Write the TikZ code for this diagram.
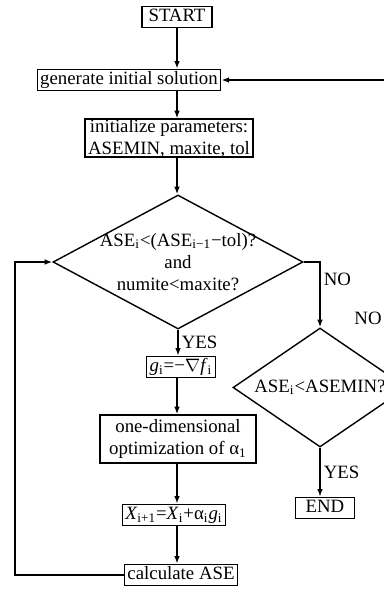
\documentclass[tikz,border=0pt]{standalone}
\usepackage{fontspec}
\setmainfont{Liberation Serif}
\usetikzlibrary{arrows.meta, calc, positioning, shapes.geometric}

\begin{document}
\begin{tikzpicture}[x=0.5pt, y=-0.5pt,
	every node/.style={font=\fontsize{9.4}{11}\selectfont},
	box/.style={draw, line width=0.7pt, inner xsep=1.5pt, inner ysep=0.8pt, align=center},
	onel/.style={box, text height=6.8pt, text depth=2.2pt},
	decision/.style={draw, line width=0.7pt, diamond, aspect=2, inner sep=-6pt, align=center},
	arr/.style={line width=0.9pt, -{Latex[length=3.8pt,width=2.8pt]}},
	lbl/.style={inner sep=1.5pt}]
		\useasboundingbox (0,0) rectangle (384,589);
		\clip (0,0) rectangle (384,589);
		\coordinate (axis) at (177,0);
		\coordinate (lft) at (15,0);
		\coordinate (rgt) at (420,0);
		\node[onel, minimum width=35pt] (start) at (177,17) {START};
		\node[onel] (gen) at (129,80) {generate initial solution};
		\node[box, inner ysep=0pt] (init) at (169,138) {initialize parameters:\\ASEMIN, maxite, tol};
		\node[decision, minimum width=125pt, minimum height=67pt] (cond) at (178,262)
			{ASE\textsubscript{i}<(ASE\textsubscript{i−1}−tol)?\\and\\numite<maxite?};
		\node[onel] (grad) at (181,367) {\textit{g}\textsubscript{i}=−$\nabla$\textit{f}\textsubscript{i}};
		\node[box, minimum width=78pt, minimum height=24pt] (opt) at (178,439) {one-dimensional\\optimization of α\textsubscript{1}};
		\node[onel] (upd) at (174,515) {\textit{X}\textsubscript{i+1}=\textit{X}\textsubscript{i}+α\textsubscript{i}\textit{g}\textsubscript{i}};
		\node[onel] (calc) at (181,575) {calculate ASE};
		\node[decision, minimum width=87pt, minimum height=59.5pt] (check) at (320,387.5) {ASE\textsubscript{i}<ASEMIN?};
		\node[onel, minimum width=29.5pt] (end) at (325,508) {END};
		\node (no2) at (368,318) {NO};
		\draw[arr] (start.south) -- (start.south |- gen.north);
		\draw[arr] (gen.south -| axis) -- (init.north -| axis);
		\draw[arr] (init.south -| axis) -- (cond.north -| axis);
		\draw[arr] (cond.south) -- node[lbl, right] {YES} (cond.south |- grad.north);
		\draw[arr] (grad.south -| axis) -- (opt.north -| axis);
		\draw[arr] (opt.south -| axis) -- (upd.north -| axis);
		\draw[arr] (upd.south -| axis) -- (calc.north -| axis);
		\draw[arr] (calc.west) -- (calc.west -| lft) |- (cond.west);
		\draw[arr] (cond.east) -| node[lbl, right, pos=0.63] {NO} (check.north);
		\draw[arr] (check.south) -- node[lbl, right] {YES} (check.south |- end.north);
		\draw[arr] (check.east) -- (check.east -| rgt) |- (gen.east);
	\end{tikzpicture}
\end{document}
